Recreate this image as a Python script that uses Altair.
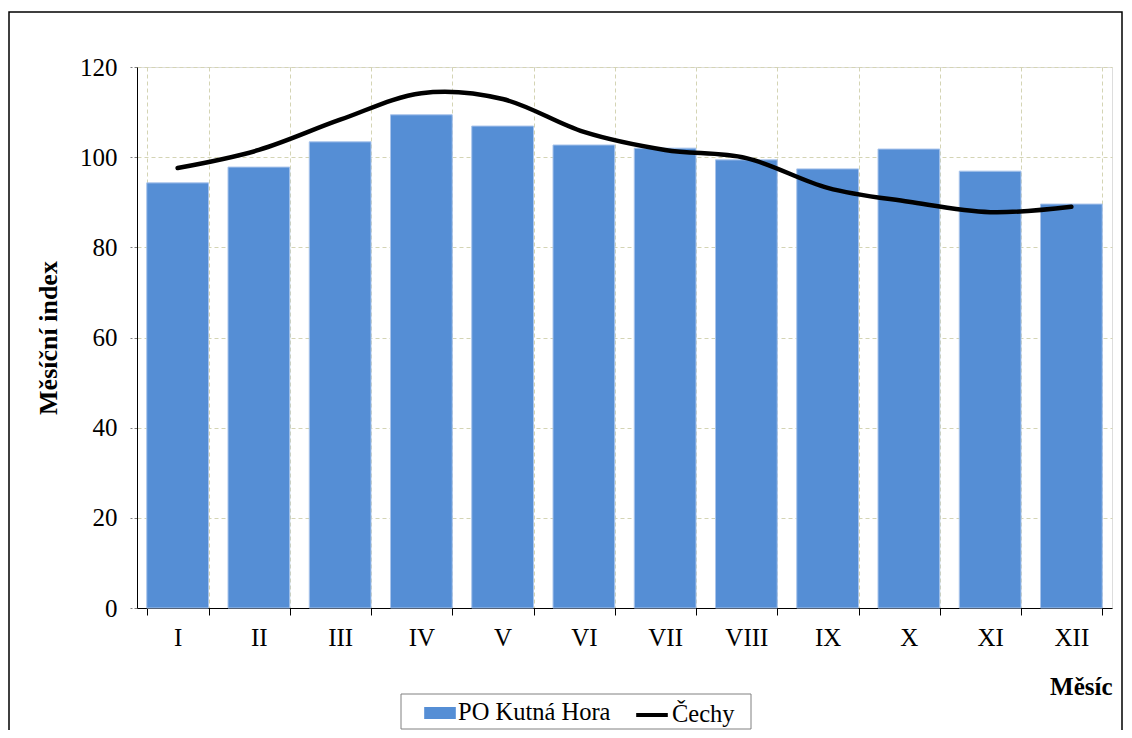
import altair as alt
import pandas as pd

months = ["I", "II", "III", "IV", "V", "VI", "VII", "VIII", "IX", "X", "XI", "XII"]
kutna_hora = [94.3, 97.8, 103.4, 109.4, 106.9, 102.7, 102.0, 99.4, 97.4, 101.8, 96.9, 89.6]
cechy = [97.6, 101.6, 108.3, 114.2, 112.9, 105.6, 101.6, 99.8, 93.2, 90.1, 87.8, 89.0]
series_names = ["PO Kutná Hora", "Čechy"]
y_ticks = [0, 20, 40, 60, 80, 100, 120]

FONT = "Liberation Serif"

bar_df = pd.DataFrame({"month": months, "value": kutna_hora, "series": series_names[0]})
line_df = pd.DataFrame({"month": months, "value": cechy, "series": series_names[1]})

common_legend = dict(
    orient="none", direction="horizontal", title=None, padding=0,
    labelFont=FONT, labelFontSize=24.5, labelColor="#000000", symbolSize=1000, labelOffset=2,
)

x_enc = alt.X(
    "month:N", sort=months, scale=alt.Scale(paddingInner=0.24, paddingOuter=0.12),
    axis=alt.Axis(
        title="Měsíc", titleAnchor="end", titleFont=FONT, titleFontSize=25, titleFontWeight="bold",
        titleColor="#000000", titlePadding=24, labelFont=FONT, labelFontSize=25, labelColor="#000000",
        labelAngle=0, labelPadding=10, tickBand="extent", tickSize=7, tickColor="#000000",
        domainColor="#000000", grid=True, gridColor="#D4D4B4", gridDash=[4, 3],
    ),
)

y_enc = alt.Y(
    "value:Q", scale=alt.Scale(domain=[0, 120], nice=False),
    axis=alt.Axis(
        title="Měsíční index", values=y_ticks, titleFont=FONT, titleFontSize=26, titleFontWeight="bold",
        titleColor="#000000", titlePadding=18, labelFont=FONT, labelFontSize=25, labelColor="#000000",
        labelPadding=13, tickSize=7, tickColor="#808080", tickDash=[3, 2], domainColor="#000000",
        grid=True, gridColor="#D4D4B4", gridDash=[4, 3],
    ),
)

bars = alt.Chart(bar_df).mark_bar(stroke="#A9C4EB", strokeWidth=1).encode(
    x=x_enc, y=y_enc,
    fill=alt.Fill(
        "series:N", scale=alt.Scale(domain=[series_names[0]], range=["#558ED5"]),
        legend=alt.Legend(legendX=287, legendY=630, symbolType="M-1,-0.38H1V0.38H-1Z",
                          symbolStrokeWidth=0, **common_legend),
    ),
)

line = alt.Chart(line_df).mark_line(interpolate="cardinal", strokeWidth=4.5, strokeCap="round").encode(
    x=alt.X("month:N", sort=months),
    y=alt.Y("value:Q"),
    stroke=alt.Stroke(
        "series:N", scale=alt.Scale(domain=[series_names[1]], range=["#000000"]),
        legend=alt.Legend(legendX=497, legendY=630, symbolType="stroke",
                          symbolStrokeWidth=4, **common_legend),
    ),
)

legend_box = alt.Chart(pd.DataFrame({"f": [0]})).mark_rect(
    fillOpacity=0, stroke="#808080", strokeWidth=1
).encode(
    x=alt.value(264), x2=alt.value(614), y=alt.value(627), y2=alt.value(662),
)

frame = alt.Chart(pd.DataFrame({"f": [0]})).mark_rect(
    fillOpacity=0, stroke="#000000", strokeWidth=1.5
).encode(
    x=alt.value(-128), x2=alt.value(985), y=alt.value(-55), y2=alt.value(700),
)

chart = alt.layer(bars, line, legend_box, frame).properties(
    width=975, height=541,
    padding={"left": 129, "top": 59, "right": 12, "bottom": 122},
    autosize=alt.AutoSizeParams(type="none"),
).configure_view(stroke="#808080", strokeWidth=1.5).configure(background="#FFFFFF")

chart.save("out.html", embed_options={"renderer": "svg", "actions": False})
